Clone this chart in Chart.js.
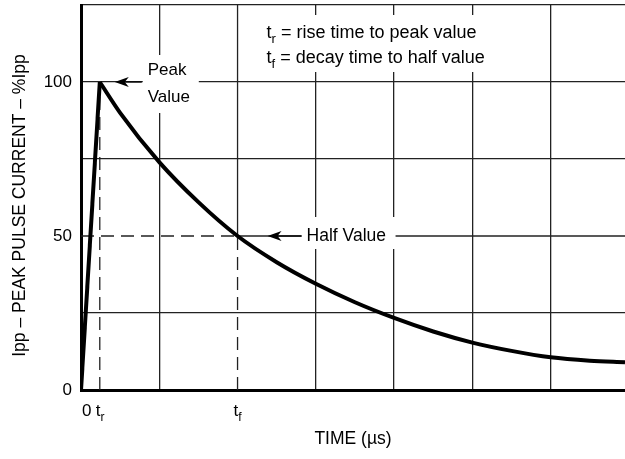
<!DOCTYPE html>
<html lang="en">
<head>
<meta charset="UTF-8">
<title>Peak pulse current waveform</title>
<script src="https://cdn.jsdelivr.net/npm/chart.js"></script>
<style>
  html, body { margin:0; padding:0; background:#fff; }
  #wrap { width:625px; height:459px; position:relative; }
</style>
</head>
<body>
<div id="wrap"><canvas id="pulse"></canvas></div>
<script>
const FONT = '"Liberation Sans", Arial, Helvetica, sans-serif';

// waveform: x in grid divisions, y in %Ipp
const riseX  = [0, 0.24];
const riseY  = [0, 100];
const decayX = [0.24, 0.5, 1, 1.5, 2, 2.5, 3, 3.5, 4, 4.5, 5, 5.5, 6, 6.5, 6.95];
const decayY = [100, 90, 74, 61, 50, 41.5, 34.5, 28.5, 23.4, 19, 15.4, 12.7, 10.6, 9.5, 9];

const tr = 0.24, tf = 2;
const peakVal = 100, halfVal = 50;
const xMax = 6.95, yMax = 125;
const yTickLabels = [0, 50, 100];
const xTickVals = [0, tr, tf];
const xTickMain = ['0', 't', 't'];
const xTickSub  = ['', 'r', 'f'];
const yTitle = 'Ipp – PEAK PULSE CURRENT – %Ipp';

const GRID = '#222';
const pts = (xs, ys) => xs.map((x, i) => ({ x: x, y: ys[i] }));
const thin = { borderColor: GRID, borderWidth: 1.3, pointRadius: 0, tension: 0, order: 2 };
const dash = [13, 7];

// "t" with subscript, returns width
function subText(ctx, main, sub, x, y, size) {
  ctx.font = size + 'px ' + FONT;
  ctx.fillText(main, x, y);
  const w = ctx.measureText(main).width;
  if (!sub) return w;
  ctx.font = Math.round(size * 0.7) + 'px ' + FONT;
  ctx.fillText(sub, x + w, y + size * 0.28);
  return w + ctx.measureText(sub).width;
}

function arrow(ctx, tipX, tailX, y) {
  ctx.lineWidth = 1.3;
  ctx.beginPath(); ctx.moveTo(tailX, y); ctx.lineTo(tipX + 8, y); ctx.stroke();
  ctx.beginPath();
  ctx.moveTo(tipX, y);
  ctx.lineTo(tipX + 14, y - 5);
  ctx.lineTo(tipX + 10, y);
  ctx.lineTo(tipX + 14, y + 5);
  ctx.closePath(); ctx.fill();
}

const annot = {
  id: 'annot',
  afterDatasetsDraw(chart) {
    const { ctx, scales: { x, y } } = chart;
    ctx.save();
    ctx.fillStyle = '#000'; ctx.strokeStyle = '#000';
    ctx.textBaseline = 'alphabetic';

    // x tick labels with subscripts
    const ly = y.getPixelForValue(0) + 26;
    xTickVals.forEach((v, i) => {
      const px = x.getPixelForValue(v);
      if (i === 0) { subText(ctx, xTickMain[i], '', px + 1, ly, 17); }
      else { subText(ctx, xTickMain[i], xTickSub[i], px - 4, ly, 17); }
    });

    // y axis title
    ctx.save();
    ctx.translate(20, (y.top + y.bottom) / 2 + 8);
    ctx.rotate(-Math.PI / 2);
    ctx.font = '17.5px ' + FONT;
    ctx.textAlign = 'center';
    ctx.textBaseline = 'middle';
    ctx.fillText(yTitle, 0, 0);
    ctx.restore();

    // legend box
    const lx = x.getPixelForValue(tf) + 29, l1 = y.getPixelForValue(peakVal) - 44;
    ctx.fillStyle = '#fff';
    ctx.fillRect(lx - 5, l1 - 23, 224, 57);
    ctx.fillStyle = '#000';
    let w = subText(ctx, 't', 'r', lx, l1, 18);
    ctx.font = '18px ' + FONT;
    ctx.fillText(' = rise time to peak value', lx + w, l1);
    w = subText(ctx, 't', 'f', lx, l1 + 25, 18);
    ctx.font = '18px ' + FONT;
    ctx.fillText(' = decay time to half value', lx + w, l1 + 25);

    // Peak Value
    const py = y.getPixelForValue(peakVal);
    const pTip = x.getPixelForValue(tr) + 15;
    ctx.fillStyle = '#fff';
    ctx.fillRect(pTip + 28, py - 27, 56, 58);
    ctx.fillStyle = '#000';
    arrow(ctx, pTip, pTip + 27, py);
    ctx.font = '17px ' + FONT;
    ctx.textBaseline = 'middle';
    ctx.fillText('Peak', pTip + 33, py - 12);
    ctx.fillText('Value', pTip + 33, py + 15);

    // Half Value
    const hy = y.getPixelForValue(halfVal);
    const hTip = x.getPixelForValue(tf) + 30;
    ctx.fillStyle = '#fff';
    ctx.fillRect(hTip + 34, hy - 19, 94, 32);
    ctx.fillStyle = '#000';
    arrow(ctx, hTip, hTip + 34, hy);
    ctx.font = '17.5px ' + FONT;
    ctx.fillText('Half Value', hTip + 39, hy);
    ctx.restore();
  }
};

new Chart(document.getElementById('pulse'), {
  type: 'scatter',
  data: {
    datasets: [
      { data: pts(riseX, riseY), showLine: true, borderColor: '#000', borderWidth: 4, pointRadius: 0, tension: 0, order: 0 },
      { data: pts(decayX, decayY), showLine: true, borderColor: '#000', borderWidth: 4, pointRadius: 0, cubicInterpolationMode: 'monotone', order: 0 },
      { data: [{ x: tr, y: 0 }, { x: tr, y: peakVal }], showLine: true, borderDash: dash, ...thin },
      { data: [{ x: 0, y: halfVal }, { x: tf, y: halfVal }], showLine: true, borderDash: dash, ...thin },
      { data: [{ x: tf, y: 0 }, { x: tf, y: halfVal }], showLine: true, borderDash: dash, ...thin },
      { data: [{ x: tf, y: halfVal }, { x: tf, y: yMax }], showLine: true, ...thin },
      { data: [{ x: tf, y: halfVal }, { x: xMax, y: halfVal }], showLine: true, ...thin }
    ]
  },
  options: {
    responsive: true,
    maintainAspectRatio: false,
    animation: false,
    layout: { padding: { top: 5, right: 0, bottom: 0, left: 0 } },
    plugins: { legend: { display: false }, tooltip: { enabled: false } },
    scales: {
      x: {
        type: 'linear', min: 0, max: xMax,
        afterBuildTicks: s => { s.ticks = s.ticks.filter(t => Number.isInteger(t.value)); },
        ticks: { display: false, stepSize: 1 },
        grid: { color: c => (c.tick && c.tick.value === tf) ? 'rgba(0,0,0,0)' : GRID, lineWidth: 1.3, drawTicks: false },
        border: { color: '#000', width: 3 },
        title: { display: true, text: 'TIME (µs)', color: '#000', font: { family: FONT, size: 17.5 }, padding: { top: 0, bottom: 9 } },
        afterFit: s => { s.height = 69; s.paddingLeft = 0; s.paddingRight = 0; }
      },
      y: {
        min: 0, max: yMax,
        ticks: { stepSize: 25, padding: 9, color: '#000', font: { family: FONT, size: 17 },
                 callback: v => yTickLabels.includes(v) ? String(v) : '' },
        grid: { color: c => (c.tick && c.tick.value === halfVal) ? 'rgba(0,0,0,0)' : GRID, lineWidth: 1.3, drawTicks: false },
        border: { color: '#000', width: 3 },
        afterFit: s => { s.width = 81; s.paddingTop = 0; s.paddingBottom = 0; }
      }
    }
  },
  plugins: [annot]
});
</script>
</body>
</html>
